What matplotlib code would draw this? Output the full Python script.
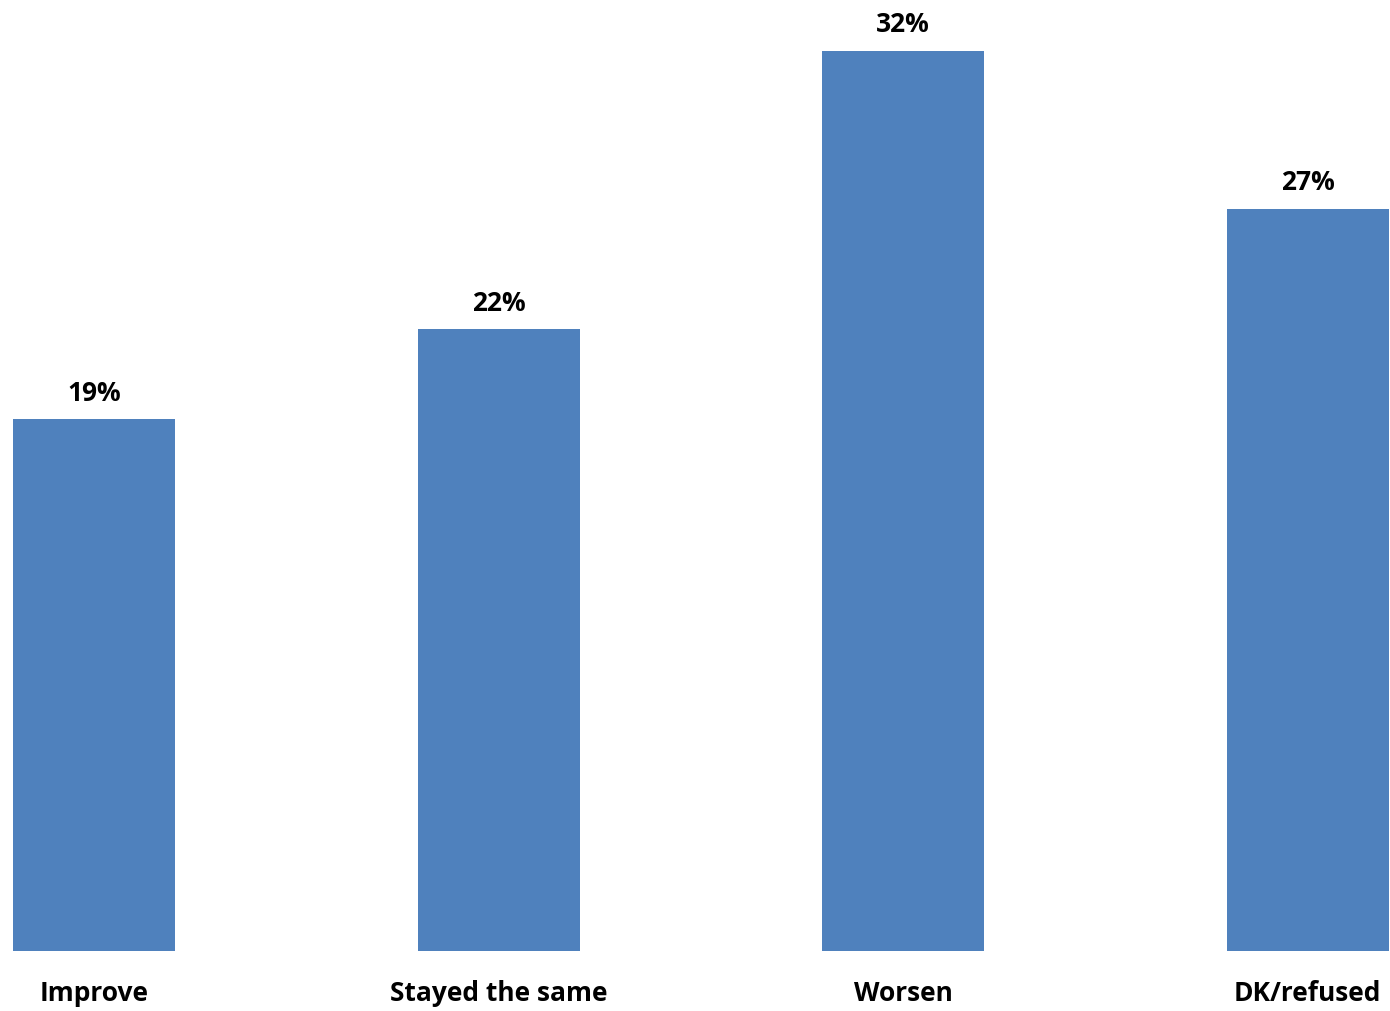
import matplotlib
matplotlib.use('Agg')
from matplotlib import pyplot as plt

plt.rcParams['font.family'] = ['Open Sans', 'DejaVu Sans']

categories = ['Improve', 'Stayed the same', 'Worsen', 'DK/refused']
values = [18.9, 22.1, 32.0, 26.4]
value_labels = ['19%', '22%', '32%', '27%']

W, H = 1390, 1012
fig = plt.figure(figsize=(W / 100, H / 100), dpi=100)

# axis area: baseline at pixel row 951, bars centred at 94 + 404.5*i
base = 952
ax = fig.add_axes([0, (H - base) / H, 1, base / H])
step = 404.5
ax.set_xlim(-94 / step, (W - 94) / step)
ax.set_ylim(0, base / 28.125)

x = range(len(categories))
ax.bar(x, values, width=162 / step, color='#4F81BD')

for i, (v, lab) in enumerate(zip(values, value_labels)):
    ax.annotate(lab, (i, v), xytext=(0, 10), textcoords='offset points',
                ha='center', va='bottom', fontsize=19, fontweight='bold')

for i, c in enumerate(categories):
    ax.annotate(c, (i, 0), xytext=(0, -30), textcoords='offset points',
                ha='center', va='center', fontsize=19, fontweight='bold',
                annotation_clip=False)

ax.axis('off')
fig.savefig('out.png', dpi=100)
